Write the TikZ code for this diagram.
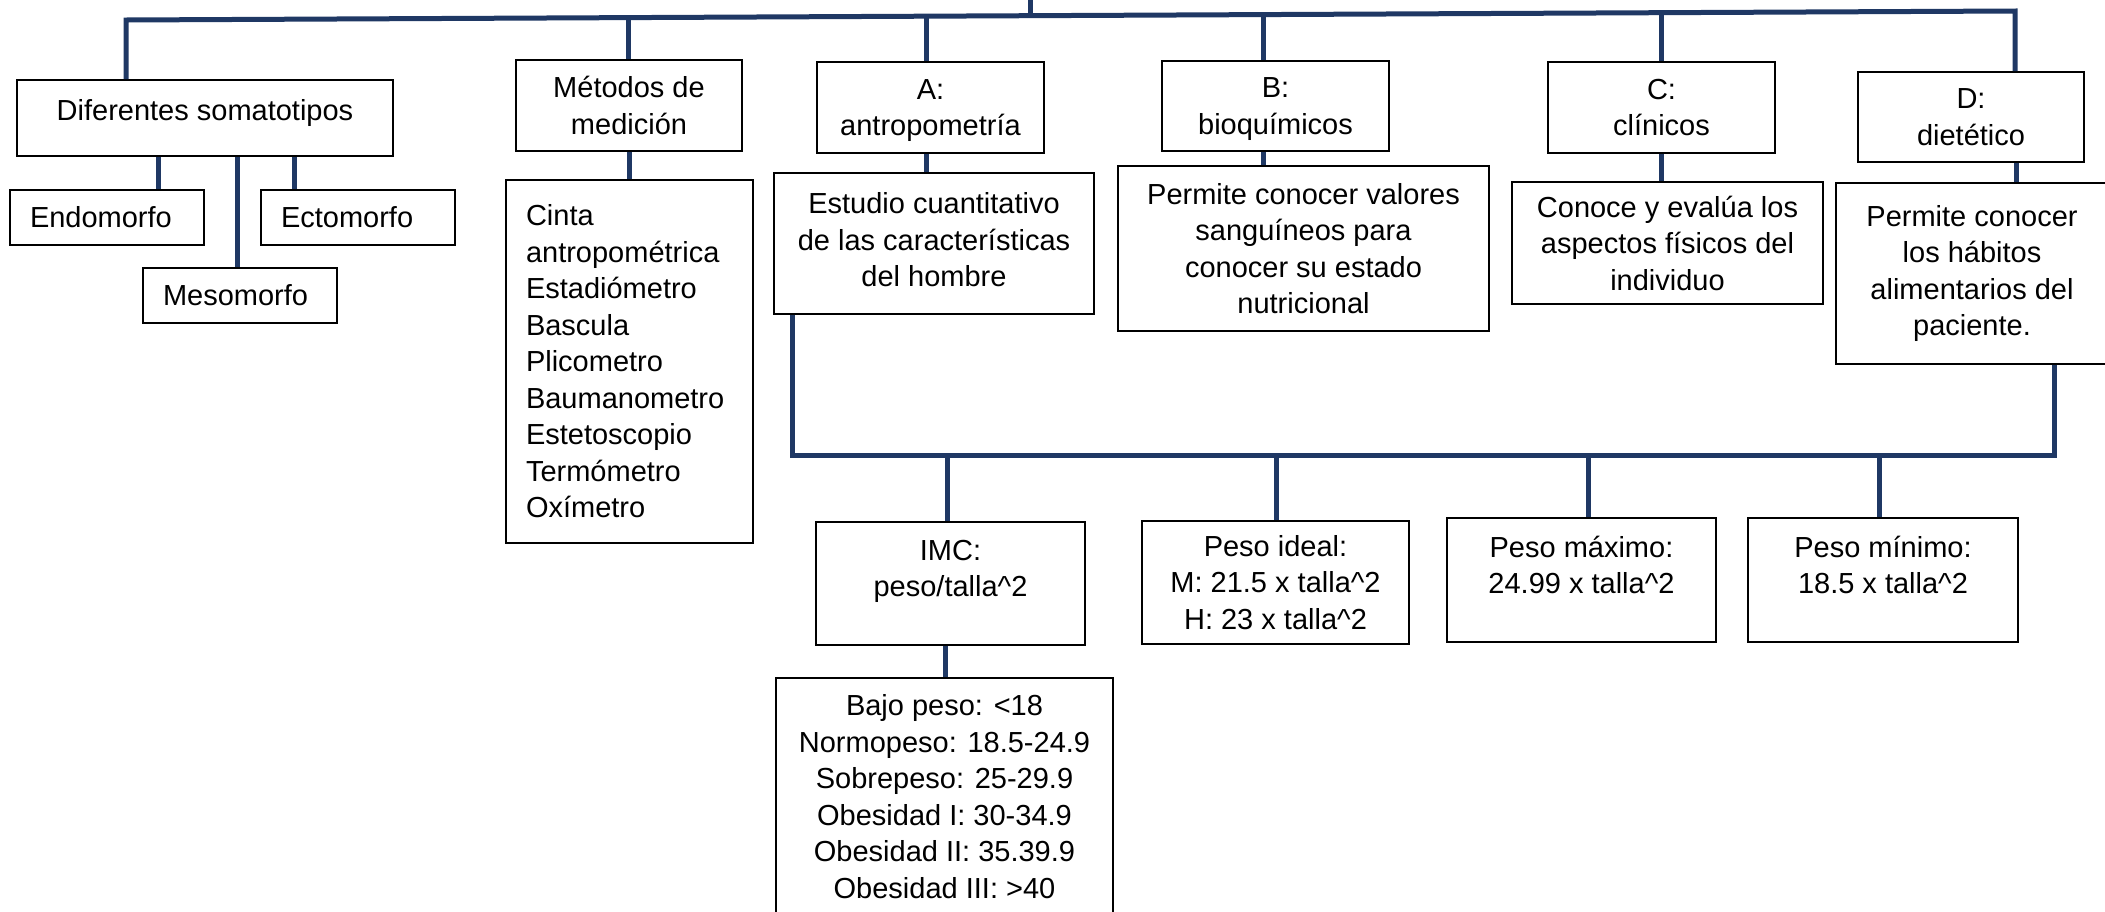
\documentclass[tikz,border=0pt]{standalone}
\usepackage{fontspec}
\setmainfont{Liberation Sans}
\usepackage{tikz}
\usetikzlibrary{calc}

\definecolor{azul}{RGB}{31,56,100}

\begin{document}
\begin{tikzpicture}[x=0.5pt,y=-0.5pt,
    caja/.style={draw,line width=0.9pt,inner sep=0pt,align=center,
                 font=\fontsize{14.5}{18.25}\selectfont},
    hoja/.style={caja,align=left,inner xsep=10pt},
    rama/.style={draw=azul,line width=2.5pt}]
  \useasboundingbox (0,0) rectangle (2105,911);
  \clip (0,0) rectangle (2105,911);

  % fila de arriba
  \node[caja,minimum width=188pt,minimum height=38pt,text depth=8pt] (dif) at (205,118) {Diferentes somatotipos};
  \node[caja,minimum width=113pt,minimum height=45.5pt] (met) at (629,105.5) {Métodos de\\medición};
  \node[caja,minimum width=113.5pt,minimum height=45.5pt,text depth=0pt] (A) at (930.5,107.5) {A:\\antropometría};
  \node[caja,minimum width=113.5pt,minimum height=45pt,text depth=0pt] (B) at (1275.5,106) {B:\\bioquímicos};
  \node[caja,minimum width=113.5pt,minimum height=45.5pt] (C) at (1661.5,107.5) {C:\\clínicos};
  \node[caja,minimum width=113pt,minimum height=45pt]   (D) at (1971,117) {D:\\dietético};

  % somatotipos
  \node[hoja,text width=77pt,minimum height=27.5pt] (endo) at (107,217.5) {Endomorfo};
  \node[hoja,text width=77pt,minimum height=27.5pt] (ecto) at (358,217.5) {Ectomorfo};
  \node[hoja,text width=77pt,minimum height=27.5pt] (meso) at (240,295.5) {Mesomorfo};

  % descripciones
  \node[hoja,text width=103.5pt,minimum height=181.5pt] (lista) at (629.5,361.5)
       {Cinta\\antropométrica\\Estadiómetro\\Bascula\\Plicometro\\Baumanometro\\Estetoscopio\\Termómetro\\Oxímetro};
  \node[caja,minimum width=160pt,minimum height=70.5pt,text depth=4pt] (estudio) at (934,243.5)
       {Estudio cuantitativo\\de las características\\del hombre};
  \node[caja,minimum width=185.5pt,minimum height=82.5pt] (valores) at (1303.5,248.5)
       {Permite conocer valores\\sanguíneos para\\conocer su estado\\nutricional};
  \node[caja,minimum width=155.5pt,minimum height=61pt] (conoce) at (1667.5,243)
       {Conoce y evalúa los\\aspectos físicos del\\individuo};
  \node[caja,minimum width=136pt,minimum height=90.5pt] (habitos) at (1972,273.5)
       {Permite conocer\\los hábitos\\alimentarios del\\paciente.};

  % fila de abajo
  \node[caja,minimum width=134.5pt,minimum height=61.5pt] (imc) at (950.5,583.5)
       {IMC:\\peso/talla\textasciicircum2\rule[-15pt]{0pt}{15pt}};
  \node[caja,minimum width=133.5pt,minimum height=61.5pt] (ideal) at (1275.5,582.5)
       {Peso ideal:\\M: 21.5 x talla\textasciicircum2\\H: 23 x talla\textasciicircum2};
  \node[caja,minimum width=134.5pt,minimum height=62pt] (max) at (1581.5,580)
       {Peso máximo:\\24.99 x talla\textasciicircum2\rule[-15pt]{0pt}{15pt}};
  \node[caja,minimum width=135pt,minimum height=62pt] (min) at (1883,580)
       {Peso mínimo:\\18.5 x talla\textasciicircum2\rule[-15pt]{0pt}{15pt}};
  \node[caja,minimum width=168.5pt,minimum height=118.5pt] (bajo) at (944.5,796.5)
       {Bajo peso: <18\\Normopeso: 18.5-24.9\\Sobrepeso: 25-29.9\\Obesidad I: 30-34.9\\Obesidad II: 35.39.9\\Obesidad III: >40};

  % barra superior
  \coordinate (izq) at (126,20);
  \coordinate (der) at (2015,11);
  \coordinate (raiz) at ($(izq)!.479!(der)$);
  \coordinate (tm) at ($(izq)!.266!(der)$);
  \coordinate (ta) at ($(izq)!.424!(der)$);
  \coordinate (tb) at ($(izq)!.602!(der)$);
  \coordinate (tc) at ($(izq)!.813!(der)$);
  \draw[rama] (raiz) -- (raiz |- 0,0);
  \draw[rama] (izq |- dif.north) -- (izq) -- (der) -- (der |- D.north);
  \draw[rama] (tm) -- (tm |- met.north);
  \draw[rama] (ta) -- (ta |- A.north);
  \draw[rama] (tb) -- (tb |- B.north);
  \draw[rama] (tc) -- (tc |- C.north);

  % ramas cortas
  \draw[rama] (dif.south -| 158,0) -- (endo.north -| 158,0);
  \draw[rama] (dif.south -| 237,0) -- (meso.north -| 237,0);
  \draw[rama] (dif.south -| 294,0) -- (ecto.north -| 294,0);
  \draw[rama] (met.south) -- (lista.north -| met.south);
  \draw[rama] (A.south -| ta) -- (estudio.north -| ta);
  \draw[rama] (B.south -| tb) -- (valores.north -| tb);
  \draw[rama] (C.south -| tc) -- (conoce.north -| tc);
  \draw[rama] (D.south -| 2016,0) -- (habitos.north -| 2016,0);

  % barra inferior
  \coordinate (bi) at (792,455);
  \coordinate (bd) at (2054,455);
  \draw[rama] (bi |- estudio.south) -- (bi) -- (bd) -- (bd |- habitos.south);
  \draw[rama] (bi -| 947,0)  -- (imc.north -| 947,0);
  \draw[rama] (bi -| 1276,0) -- (ideal.north -| 1276,0);
  \draw[rama] (bi -| 1588,0) -- (max.north -| 1588,0);
  \draw[rama] (bi -| 1879,0) -- (min.north -| 1879,0);
  \draw[rama] (imc.south -| 945,0) -- (bajo.north -| 945,0);
\end{tikzpicture}
\end{document}
